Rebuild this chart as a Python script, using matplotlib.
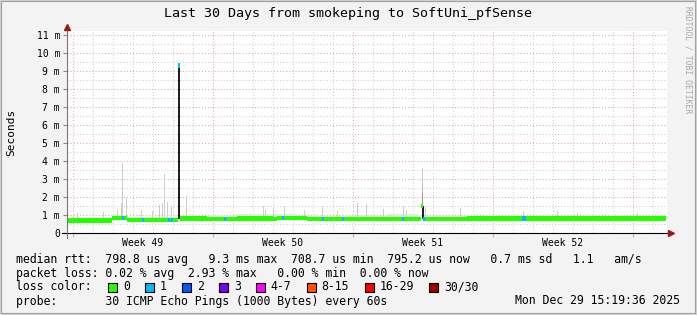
import numpy as np
import matplotlib.pyplot as plt
from matplotlib.patches import Rectangle

# x axis is days since the start of the 30 day window
week_starts = [0.3, 7.3, 14.3, 21.3, 28.3]
week_centers = [3.8, 10.8, 17.8, 24.8]
week_labels = ["Week 49", "Week 50", "Week 51", "Week 52"]

# median rtt in ms (step changes)
med_x = [0.0, 2.25, 3.0, 5.55, 5.65, 7.0, 8.5, 10.3, 10.5, 12.0, 17.72, 17.8, 20.0, 29.95]
med_y = [0.70, 0.82, 0.72, 9.3, 0.80, 0.79, 0.81, 0.77, 0.82, 0.79, 1.5, 0.78, 0.80, 0.80]

# light smoke band above the median
band_x = [0.0, 2.25, 3.0, 5.65, 8.5, 11.5, 16.0, 17.6, 29.95]
band_top = [0.84, 1.0, 0.88, 0.92, 1.05, 0.92, 1.05, 0.92, 0.92]

# smoke spikes (day, top in ms)
spike_x = [0.5, 1.8, 2.5, 2.7, 2.75, 2.95, 3.7, 4.25, 4.6, 4.75, 4.85, 5.0, 5.2, 5.95,
           9.8, 9.9, 10.3, 10.85, 11.85, 12.75, 13.5, 14.5, 14.95, 15.8, 16.8, 16.95,
           17.75, 17.9, 19.65, 22.8, 24.5, 25.5, 28.5]
spike_top = [1.1, 1.15, 1.3, 1.65, 3.9, 1.95, 1.25, 1.2, 1.55, 1.65, 3.3, 1.7, 1.5, 2.05,
             1.5, 1.3, 1.45, 1.5, 1.3, 1.45, 1.2, 1.65, 1.6, 1.35, 1.5, 1.3,
             3.6, 1.45, 1.4, 1.15, 1.2, 1.1, 1.1]

# dense smoke (all pings slow)
dark_x = [5.55, 17.73]
dark_lo = [0.75, 0.8]
dark_hi = [9.3, 1.5]
grey_x = [17.75, 17.75]
grey_lo = [1.5, 2.2]
grey_hi = [2.2, 2.8]
grey_col = ["#9a9a9a", "#bdbdbd"]

# spots with 1/30 lost
loss1_x = [2.75, 3.75, 5.05, 5.2, 5.55, 7.85, 10.75, 12.75, 13.75, 16.75, 17.8, 22.75, 22.85]

loss_labels = ["0", "1", "2", "3", "4-7", "8-15", "16-29", "30/30"]
loss_colors = ["#26ff00", "#00b8ff", "#0059ff", "#7e00ff", "#ff00ff", "#ff5500", "#ff0000", "#a10000"]

mono = "DejaVu Sans Mono"
W, H = 697, 315

fig = plt.figure(figsize=(W / 100, H / 100), dpi=100)
fig.patch.set_facecolor("#f3f3f3")


def fx(px):
    return px / W


def fy(py):
    return 1 - py / H


ax = fig.add_axes([fx(67), fy(233), fx(667) - fx(67), fy(31) - fy(233)])
ax.set_facecolor("white")
ax.set_xlim(0, 30)
ax.set_ylim(0, 11.22)

# grid
ax.set_xticks(week_starts)
ax.set_xticklabels([])
ax.set_xticks(np.arange(0.3, 30, 1.0), minor=True)
ax.set_yticks(range(0, 12))
ax.set_yticklabels(["0"] + [f"{i} m" for i in range(1, 12)], family=mono, fontsize=7)
ax.set_yticks(np.arange(0.5, 11.2, 1.0), minor=True)
ax.grid(which="minor", color="#cccccc", linestyle=(0, (1, 2)), linewidth=0.75)
ax.grid(which="major", color="#e2a8a8", linestyle=(0, (1, 2)), linewidth=0.75)
ax.set_axisbelow(True)
ax.tick_params(axis="x", which="major", length=3, color="#e2a8a8")
ax.tick_params(axis="x", which="minor", length=0)
ax.tick_params(axis="y", which="major", length=3, color="#888888", pad=2)
ax.tick_params(axis="y", which="minor", length=0)
for s in ["top", "right", "left", "bottom"]:
    ax.spines[s].set_visible(False)

for c, lab in zip(week_centers, week_labels):
    ax.text(c, -9.5 / 202, lab, transform=ax.get_xaxis_transform(), ha="center", va="center",
            family=mono, fontsize=7, clip_on=False)

# smoke
med_x = np.array(med_x)
med_y = np.array(med_y)


def med_at(x):
    return med_y[np.searchsorted(med_x, x, side="right") - 1]


band_bottom = [med_at(x) for x in band_x]
ax.fill_between(band_x, band_bottom, band_top, step="post", color="#e6e6e6", linewidth=0)
sb = [med_at(x) for x in spike_x]
ax.bar(spike_x, np.array(spike_top) - np.array(sb), bottom=sb, width=0.07, color="#cdcdcd",
       linewidth=0, align="edge")
ax.bar(grey_x, np.array(grey_hi) - np.array(grey_lo), bottom=grey_lo, width=0.07, color=grey_col,
       linewidth=0, align="edge")
ax.bar(dark_x, np.array(dark_hi) - np.array(dark_lo), bottom=dark_lo, width=0.11, color="#202020",
       linewidth=0, align="edge")

# median coloured by loss
ax.fill_between(med_x, med_y - 0.12, med_y + 0.12, step="post", color=loss_colors[0], linewidth=0)
lb = np.array([med_at(x) for x in loss1_x])
ax.bar(loss1_x, 0.24, bottom=lb - 0.12, width=0.09, color=loss_colors[1], linewidth=0, align="edge")

# axes with arrows
ax.plot([-0.25, 30.15], [0, 0], color="black", linewidth=0.8, clip_on=False)
ax.plot([0, 0], [-0.25, 11.35], color="#777777", linewidth=0.8, clip_on=False)
ax.plot([30.22], [0], marker=">", color="#a01818", markersize=5, clip_on=False)
ax.plot([0], [11.45], marker="^", color="#a01818", markersize=5, clip_on=False)

# texts
fig.text(fx(348), fy(13), "Last 30 Days from smokeping to SoftUni_pfSense", family=mono,
         fontsize=9.6, ha="center", va="center")
fig.text(fx(11), fy(132), "Seconds", family=mono, fontsize=8, rotation=90, ha="center", va="center")
fig.text(fx(688), fy(60), "RRDTOOL / TOBI OETIKER", family=mono, fontsize=5.8, rotation=270,
         ha="center", va="center", color="#a8a8a8")

fs = 8.3
fig.text(fx(16), fy(259), "median rtt:  798.8 us avg   9.3 ms max  708.7 us min  795.2 us now   0.7 ms sd   1.1   am/s",
         family=mono, fontsize=fs, va="center")
fig.text(fx(16), fy(273), "packet loss: 0.02 % avg  2.93 % max   0.00 % min  0.00 % now",
         family=mono, fontsize=fs, va="center")
fig.text(fx(16), fy(287), "loss color:", family=mono, fontsize=fs, va="center")
fig.text(fx(16), fy(301), "probe:       30 ICMP Echo Pings (1000 Bytes) every 60s",
         family=mono, fontsize=fs, va="center")
fig.text(fx(680), fy(301), "Mon Dec 29 15:19:36 2025", family=mono, fontsize=fs, va="center", ha="right")

x = 108
for lab, col in zip(loss_labels, loss_colors):
    fig.patches.append(Rectangle((fx(x), fy(292)), 9 / W, 9 / H, transform=fig.transFigure,
                                 facecolor=col, edgecolor="black", linewidth=0.8))
    fig.text(fx(x + 15), fy(287), lab, family=mono, fontsize=fs, va="center")
    x = x + 15 + len(lab) * 6.96 + 15

# frame
fig.patches.append(Rectangle((0, 0), 1, 1, transform=fig.transFigure, fill=False,
                             edgecolor="#a0a0a0", linewidth=3))
fig.patches.append(Rectangle((0, 0), 1, 1, transform=fig.transFigure, fill=False,
                             edgecolor="#d0d0d0", linewidth=1.5))

fig.savefig("out.png", dpi=100, facecolor=fig.get_facecolor())
